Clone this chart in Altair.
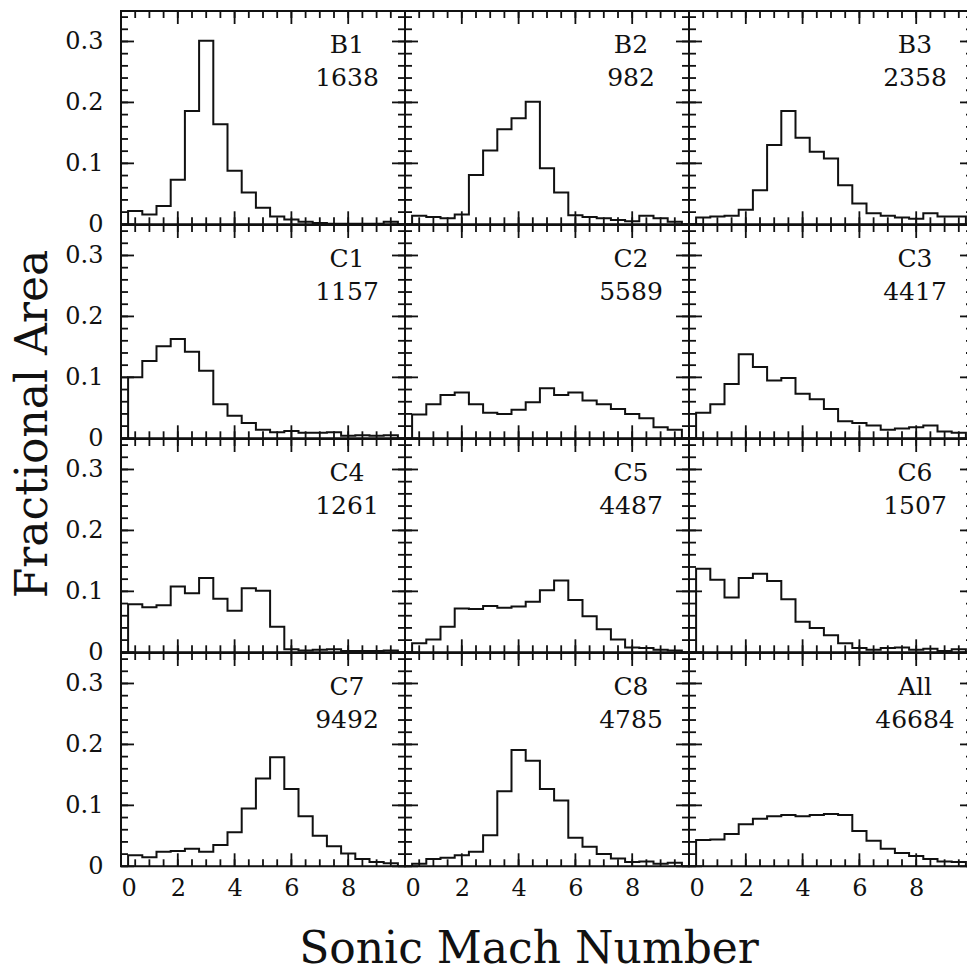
import altair as alt
import pandas as pd

# ---------------- data ----------------
names = ["B1", "B2", "B3", "C1", "C2", "C3", "C4", "C5", "C6", "C7", "C8", "All"]
counts = ["1638", "982", "2358", "1157", "5589", "4417", "1261", "4487", "1507",
          "9492", "4785", "46684"]

# histogram bin edges (bin width 0.5, centres 0.5 ... 9.5)
bin_edges = [0.25, 0.75, 1.25, 1.75, 2.25, 2.75, 3.25, 3.75, 4.25, 4.75,
             5.25, 5.75, 6.25, 6.75, 7.25, 7.75, 8.25, 8.75, 9.25, 9.75]

B1 = [0.022, 0.016, 0.030, 0.073, 0.186, 0.301, 0.164, 0.088, 0.052, 0.027,
      0.013, 0.008, 0.004, 0.002, 0.001, 0.001, 0.001, 0.001, 0.004]
B2 = [0.014, 0.012, 0.010, 0.016, 0.081, 0.121, 0.156, 0.174, 0.201, 0.092,
      0.052, 0.015, 0.012, 0.010, 0.007, 0.005, 0.014, 0.010, 0.004]
B3 = [0.011, 0.013, 0.014, 0.024, 0.056, 0.130, 0.186, 0.142, 0.119, 0.108,
      0.064, 0.034, 0.018, 0.014, 0.011, 0.009, 0.018, 0.013, 0.013]
C1 = [0.100, 0.127, 0.151, 0.163, 0.142, 0.111, 0.056, 0.037, 0.025, 0.014,
      0.010, 0.012, 0.009, 0.009, 0.010, 0.004, 0.005, 0.004, 0.005]
C2 = [0.039, 0.056, 0.071, 0.075, 0.056, 0.042, 0.040, 0.047, 0.059, 0.082,
      0.071, 0.075, 0.062, 0.056, 0.048, 0.040, 0.033, 0.018, 0.014]
C3 = [0.042, 0.056, 0.089, 0.138, 0.117, 0.095, 0.099, 0.073, 0.064, 0.048,
      0.028, 0.025, 0.021, 0.014, 0.016, 0.018, 0.021, 0.011, 0.009]
C4 = [0.079, 0.074, 0.077, 0.108, 0.097, 0.122, 0.088, 0.068, 0.105, 0.101,
      0.042, 0.005, 0.003, 0.004, 0.005, 0.002, 0.002, 0.002, 0.003]
C5 = [0.015, 0.021, 0.042, 0.072, 0.071, 0.076, 0.073, 0.075, 0.083, 0.102,
      0.118, 0.086, 0.059, 0.038, 0.021, 0.008, 0.007, 0.004, 0.003]
C6 = [0.137, 0.119, 0.090, 0.122, 0.129, 0.117, 0.087, 0.050, 0.040, 0.028,
      0.015, 0.007, 0.004, 0.007, 0.008, 0.004, 0.006, 0.002, 0.005]
C7 = [0.018, 0.015, 0.024, 0.025, 0.029, 0.024, 0.035, 0.056, 0.095, 0.144,
      0.179, 0.127, 0.082, 0.050, 0.033, 0.021, 0.012, 0.007, 0.005]
C8 = [0.004, 0.012, 0.014, 0.018, 0.024, 0.051, 0.123, 0.191, 0.173, 0.127,
      0.108, 0.047, 0.032, 0.020, 0.013, 0.007, 0.008, 0.004, 0.006]
ALL = [0.043, 0.044, 0.053, 0.069, 0.078, 0.082, 0.084, 0.082, 0.084, 0.086,
       0.084, 0.058, 0.042, 0.029, 0.022, 0.017, 0.012, 0.008, 0.007]
series = [B1, B2, B3, C1, C2, C3, C4, C5, C6, C7, C8, ALL]

x_major = [0, 2, 4, 6, 8, 10]
x_minor = [0, 0.5, 1, 1.5, 2, 2.5, 3, 3.5, 4, 4.5, 5, 5.5, 6, 6.5, 7, 7.5,
           8, 8.5, 9, 9.5, 10]
x_labels = [0, 2, 4, 6, 8]
y_major = [0, 0.1, 0.2, 0.3]
y_minor = [0, 0.02, 0.04, 0.06, 0.08, 0.1, 0.12, 0.14, 0.16, 0.18, 0.2,
           0.22, 0.24, 0.26, 0.28, 0.3, 0.32, 0.34]

# ---------------- layout / style ----------------
W, H = 284, 213.3
FONT = "DejaVu Serif"
INK = "#111111"
MAJ, MIN = 13, 7
LW = 1.8

xs = alt.Scale(domain=[0, 10], nice=False, zero=False)
ys = alt.Scale(domain=[0, 0.35], nice=False, zero=False)


def panel(idx):
    r, c = divmod(idx, 3)
    vals = series[idx]
    px = [bin_edges[0]] + bin_edges[:-1] + [bin_edges[-1]]
    py = [0] + vals + [0]
    df = pd.DataFrame({"x": px, "y": py, "i": list(range(len(px)))})

    xaxis = (alt.Axis(values=x_labels, ticks=False, tickSize=0, domain=False,
                      grid=False, title=None, labelPadding=10)
             if r == 3 else None)
    yaxis = (alt.Axis(values=y_major, ticks=False, tickSize=0, domain=False,
                      grid=False, title=None, labelPadding=18, format="~g")
             if c == 0 else None)

    X = lambda: alt.X("x:Q", scale=xs, axis=xaxis)
    Y = lambda: alt.Y("y:Q", scale=ys, axis=yaxis)

    layers = []
    layers.append(
        alt.Chart(df).mark_line(interpolate="step-after", color=INK,
                                strokeWidth=2.0)
        .encode(x=X(), y=Y(), order=alt.Order("i:Q"))
    )

    xmaj = pd.DataFrame({"x": x_major})
    xmin = pd.DataFrame({"x": x_minor})
    ymaj = pd.DataFrame({"y": y_major})
    ymin = pd.DataFrame({"y": y_minor})
    rule = dict(color=INK, strokeWidth=LW)
    for d, L in ((xmaj, MAJ), (xmin, MIN)):
        layers.append(alt.Chart(d).mark_rule(**rule).encode(
            x=X(), y=alt.value(0), y2=alt.value(L)))
        layers.append(alt.Chart(d).mark_rule(**rule).encode(
            x=X(), y=alt.value(H), y2=alt.value(H - L)))
    for d, L in ((ymaj, MAJ), (ymin, MIN)):
        layers.append(alt.Chart(d).mark_rule(**rule).encode(
            y=Y(), x=alt.value(0), x2=alt.value(L)))
        layers.append(alt.Chart(d).mark_rule(**rule).encode(
            y=Y(), x=alt.value(W), x2=alt.value(W - L)))

    lab = pd.DataFrame({"t": [names[idx]], "n": [counts[idx]]})
    layers.append(alt.Chart(lab).mark_text(
        font=FONT, fontSize=25, color=INK, align="center",
        baseline="alphabetic").encode(x=alt.value(226), y=alt.value(42),
                                      text="t:N"))
    layers.append(alt.Chart(lab).mark_text(
        font=FONT, fontSize=25, color=INK, align="center",
        baseline="alphabetic").encode(x=alt.value(226), y=alt.value(75),
                                      text="n:N"))

    if idx == 3:
        layers.append(alt.Chart(pd.DataFrame({"t": ["Fractional Area"]}))
                      .mark_text(font=FONT, fontSize=44, color=INK,
                                 align="center", baseline="alphabetic",
                                 angle=270)
                      .encode(x=alt.value(-74), y=alt.value(199), text="t:N"))
    if idx == 10:
        layers.append(alt.Chart(pd.DataFrame({"t": ["Sonic Mach Number"]}))
                      .mark_text(font=FONT, fontSize=44, color=INK,
                                 align="center", baseline="alphabetic")
                      .encode(x=alt.value(124), y=alt.value(310), text="t:N"))

    return alt.layer(*layers).properties(width=W, height=H)


panels = [panel(i) for i in range(12)]

chart = (
    alt.concat(*panels, columns=3, spacing=0, bounds="flush")
    .properties(padding={"left": 10, "top": 9, "right": -8, "bottom": 2},
                background="white")
    .configure_view(stroke=INK, strokeWidth=2)
    .configure_axis(labelFont=FONT, labelFontSize=24, labelColor=INK)
)

chart.save("out.html", embed_options={"renderer": "svg", "actions": False})
